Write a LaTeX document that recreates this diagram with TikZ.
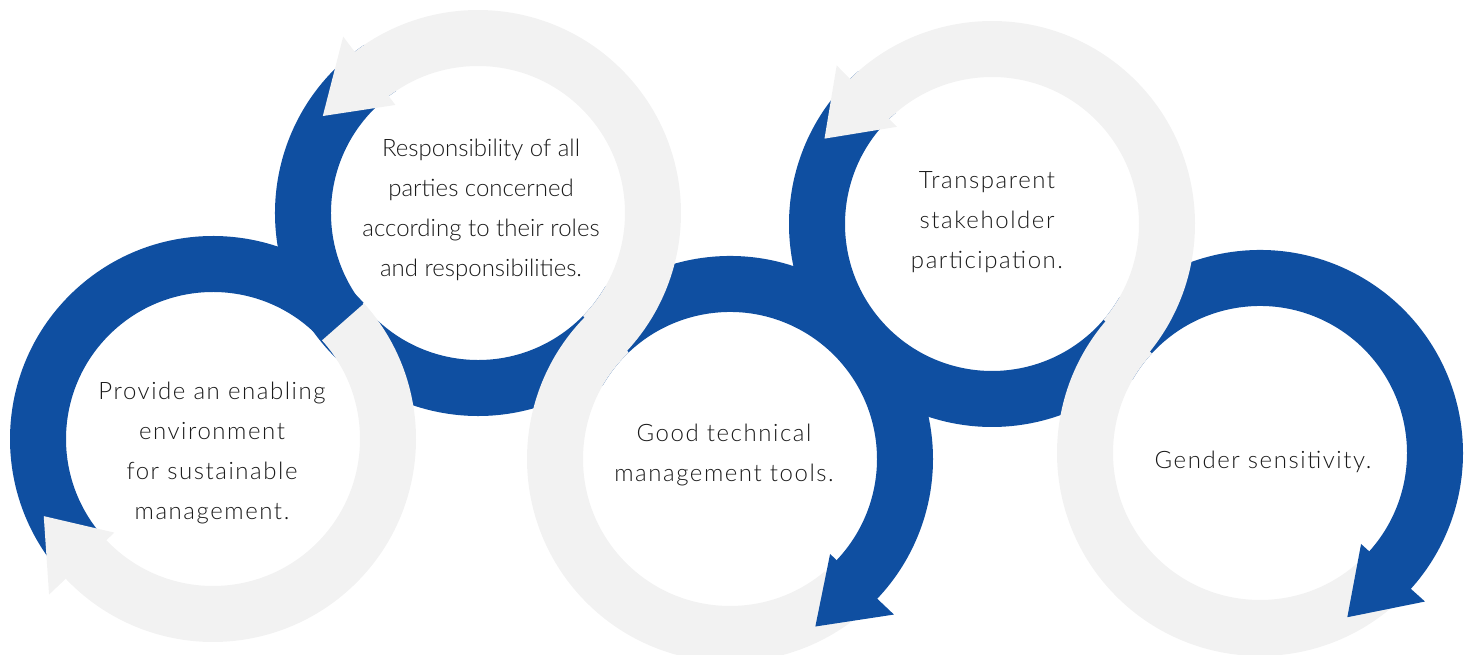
\documentclass[tikz,border=0pt]{standalone}
\usepackage{fontspec}
\IfFontExistsTF{Lato Light}{\setmainfont{Lato Light}}{\setmainfont{Lato}}
\usetikzlibrary{calc}
\definecolor{ringblue}{HTML}{0F4FA1}
\definecolor{ringgray}{HTML}{F2F2F2}
\definecolor{inktext}{HTML}{1A1A1A}

\begin{document}
\begin{tikzpicture}[x=1pt, y=1pt,
		blueband/.style={draw=ringblue, line width=56pt},
		grayband/.style={draw=ringgray, line width=56pt},
		ringlabel/.style={align=center, text=inktext, inner sep=0pt,
			font=\fontsize{24}{40}\selectfont\addfontfeatures{LetterSpace=6.5}},
		tightlabel/.style={ringlabel, font=\fontsize{24}{40}\selectfont}]
		\useasboundingbox (0,0) rectangle (1470,655);
		\clip (0,0) rectangle (1470,655);
		% ring centres
		\coordinate (c1) at (213,216);
		\coordinate (c2) at (478,442);
		\coordinate (c3) at (730,196);
		\coordinate (c4) at (992,431);
		\coordinate (c5) at (1260,202);
		% blue bands
		\draw[blueband] (c1) ++(42:175) arc[start angle=42, end angle=220, radius=175];
		\draw[blueband] (c2) ++(124:175) arc[start angle=124, end angle=330, radius=175];
		\draw[blueband] (c3) ++(150:175) arc[start angle=150, end angle=-46.5, radius=175];
		\draw[blueband] (c4) ++(131:175) arc[start angle=131, end angle=330, radius=175];
		\draw[blueband] (c5) ++(150:175) arc[start angle=150, end angle=-45, radius=175];
		% gray bands
		\draw[grayband] (c1) ++(42:175) arc[start angle=42, end angle=-139.5, radius=175];
		\draw[grayband] (c2) ++(-44.3:175) arc[start angle=-44.3, end angle=130.4, radius=175];
		\draw[grayband] (c3) ++(133.7:175) arc[start angle=133.7, end angle=310, radius=175];
		\draw[grayband] (c4) ++(-40.5:175) arc[start angle=-40.5, end angle=137.4, radius=175];
		\draw[grayband] (c5) ++(137.5:175) arc[start angle=137.5, end angle=311, radius=175];
		% arrow tips
		\fill[ringgray] ($(c1)+(223.5:136)$) -- ($(c1)+(204.5:186)$) -- ($(c1)+(223.5:226)$) -- cycle;
		\fill[ringgray] ($(c2)+(127.4:136)$) -- ($(c2)+(148:183)$) -- ($(c2)+(127.4:222)$) -- cycle;
		\fill[ringgray] ($(c4)+(134.4:136)$) -- ($(c4)+(153:188)$) -- ($(c4)+(134.4:222)$) -- cycle;
		\fill[ringblue] ($(c3)+(-43.5:138)$) -- ($(c3)+(-63:188)$) -- ($(c3)+(-43.5:226)$) -- cycle;
		\fill[ringblue] ($(c5)+(-42:136)$) -- ($(c5)+(-62:186)$) -- ($(c5)+(-42:222)$) -- cycle;
		% texts
		\node[ringlabel] (t1) at (212,201.5) {Provide an enabling\\environment\\for sustainable\\management.};
		\node[tightlabel] (t2) at (481,445) {Responsibility of all\\parties concerned\\according to their roles\\and responsibilities.};
		\node[ringlabel] (t3) at (724,200) {Good technical\\management tools.};
		\node[ringlabel] (t4) at (987,433) {Transparent\\stakeholder\\participation.};
		\node[ringlabel] (t5) at (1263,193.5) {Gender sensitivity.};
\end{tikzpicture}
\end{document}
